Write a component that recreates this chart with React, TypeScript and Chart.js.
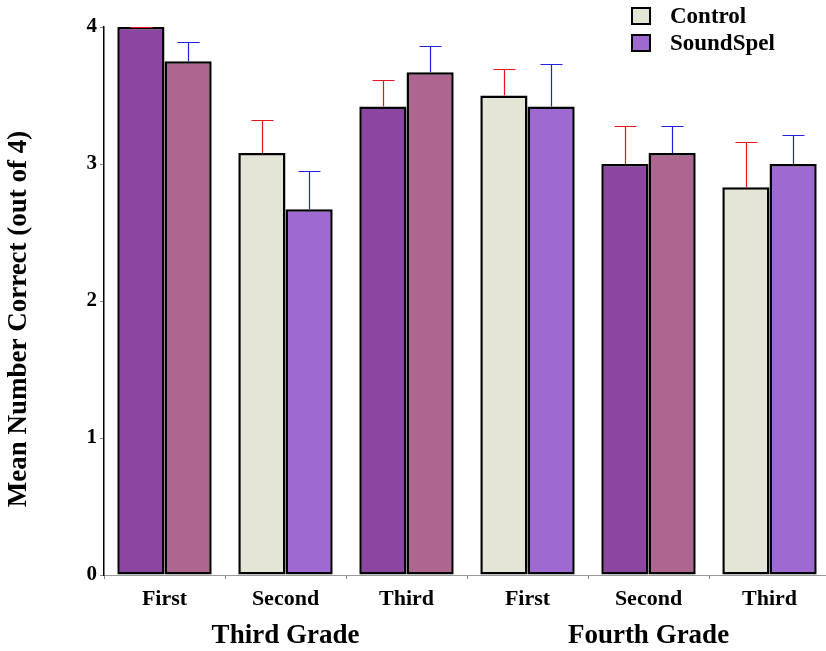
import React, { useEffect, useRef } from "react";
import { Chart, registerables } from "chart.js";

Chart.register(...registerables);

const categories = ["First", "Second", "Third", "First", "Second", "Third"];
const groupLabels = ["Third Grade", "Fourth Grade"];
const groupCenters = [1, 4];
const seriesNames = ["Control", "SoundSpel"];
const controlMeans = [4.0, 3.08, 3.42, 3.5, 3.0, 2.83];
const controlErr = [0, 0.24, 0.19, 0.19, 0.28, 0.33];
const soundMeans = [3.75, 2.67, 3.67, 3.42, 3.08, 3.0];
const soundErr = [0.14, 0.28, 0.19, 0.31, 0.2, 0.21];
const yTicks = [0, 1, 2, 3, 4];

const DP = "#8B46A2";
const MV = "#AD6690";
const BE = "#E4E5D6";
const LP = "#9E6AD2";
const controlColors = [DP, BE, DP, BE, DP, BE];
const soundColors = [MV, LP, MV, LP, MV, LP];
const legendColors = [BE, LP];
const FONT = "'Liberation Serif', 'Times New Roman', serif";

const errorBars = {
  id: "errorBars",
  afterDatasetsDraw(chart: any) {
    const ctx = chart.ctx;
    const ys = chart.scales.y;
    chart.data.datasets.forEach((ds: any, i: number) => {
      const meta = chart.getDatasetMeta(i);
      meta.data.forEach((bar: any, j: number) => {
        const top = Math.round(ys.getPixelForValue(ds.data[j] + ds.errors[j])) + 0.5;
        const base = bar.y;
        const x = Math.round(bar.x) + 0.5;
        ctx.save();
        ctx.strokeStyle = ds.errorColor;
        ctx.lineWidth = 1.2;
        ctx.beginPath();
        ctx.moveTo(x, base);
        ctx.lineTo(x, top);
        ctx.moveTo(x - 11, top);
        ctx.lineTo(x + 11, top);
        ctx.stroke();
        ctx.restore();
      });
    });
  },
};

const extras = {
  id: "extras",
  afterDraw(chart: any) {
    const ctx = chart.ctx;
    const xs = chart.scales.x;
    const area = chart.chartArea;
    ctx.save();
    ctx.fillStyle = "#000";
    // group labels
    ctx.font = `bold 27px ${FONT}`;
    ctx.textAlign = "center";
    ctx.textBaseline = "middle";
    groupLabels.forEach((g, i) => {
      ctx.fillText(g, xs.getPixelForValue(groupCenters[i]), area.bottom + 61);
    });
    // y title
    ctx.save();
    ctx.translate(19, (area.top + area.bottom) / 2 + 18);
    ctx.rotate(-Math.PI / 2);
    ctx.font = `bold 27px ${FONT}`;
    ctx.fillText("Mean Number Correct (out of 4)", 0, 0);
    ctx.restore();
    // legend
    ctx.font = `bold 23px ${FONT}`;
    ctx.textAlign = "left";
    seriesNames.forEach((name, i) => {
      const by = 8 + i * 27;
      ctx.fillStyle = legendColors[i];
      ctx.fillRect(632, by, 18, 16);
      ctx.strokeStyle = "#000";
      ctx.lineWidth = 2;
      ctx.strokeRect(632, by, 18, 16);
      ctx.fillStyle = "#000";
      ctx.fillText(name, 670, by + 9);
    });
    ctx.restore();
  },
};

export default function App() {
  const ref = useRef<HTMLCanvasElement>(null);
  useEffect(() => {
    const chart = new Chart(ref.current as HTMLCanvasElement, {
      type: "bar",
      data: {
        labels: categories,
        datasets: [
          {
            label: seriesNames[0],
            data: controlMeans,
            backgroundColor: controlColors,
            borderColor: "#000",
            borderWidth: 2.5,
            borderSkipped: false,
            categoryPercentage: 0.78,
            barPercentage: 1,
            errors: controlErr,
            errorColor: "#E8141B",
          } as any,
          {
            label: seriesNames[1],
            data: soundMeans,
            backgroundColor: soundColors,
            borderColor: "#000",
            borderWidth: 2.5,
            borderSkipped: false,
            categoryPercentage: 0.78,
            barPercentage: 1,
            errors: soundErr,
            errorColor: "#2020E0",
          } as any,
        ],
      },
      options: {
        animation: false,
        responsive: true,
        maintainAspectRatio: false,
        layout: { padding: { top: 27, left: 0, right: 0, bottom: 0 } },
        plugins: { legend: { display: false }, tooltip: { enabled: false } },
        scales: {
          x: {
            grid: { drawOnChartArea: false, tickLength: 4, color: "#888" },
            border: { color: "#999", width: 1 },
            ticks: { color: "#000", padding: 7, font: { family: FONT, size: 22, weight: "bold" } },
            afterFit: (s: any) => {
              s.height = 76;
            },
          },
          y: {
            min: 0,
            max: 4,
            afterBuildTicks: (s: any) => {
              s.ticks = yTicks.map((v) => ({ value: v }));
            },
            grid: { drawOnChartArea: false, tickLength: 4, color: "#888" },
            border: { color: "#000", width: 1.5 },
            ticks: { color: "#000", padding: 3, font: { family: FONT, size: 21, weight: "bold" } },
            afterFit: (s: any) => {
              s.width = 104;
            },
          },
        },
      },
      plugins: [errorBars, extras],
    });
    return () => chart.destroy();
  }, []);
  return (
    <div style={{ position: "fixed", left: 0, top: 0, width: 826, height: 651, overflow: "hidden", background: "#fff" }}>
      <div style={{ position: "relative", width: 830, height: 651 }}>
        <canvas ref={ref} />
      </div>
    </div>
  );
}
